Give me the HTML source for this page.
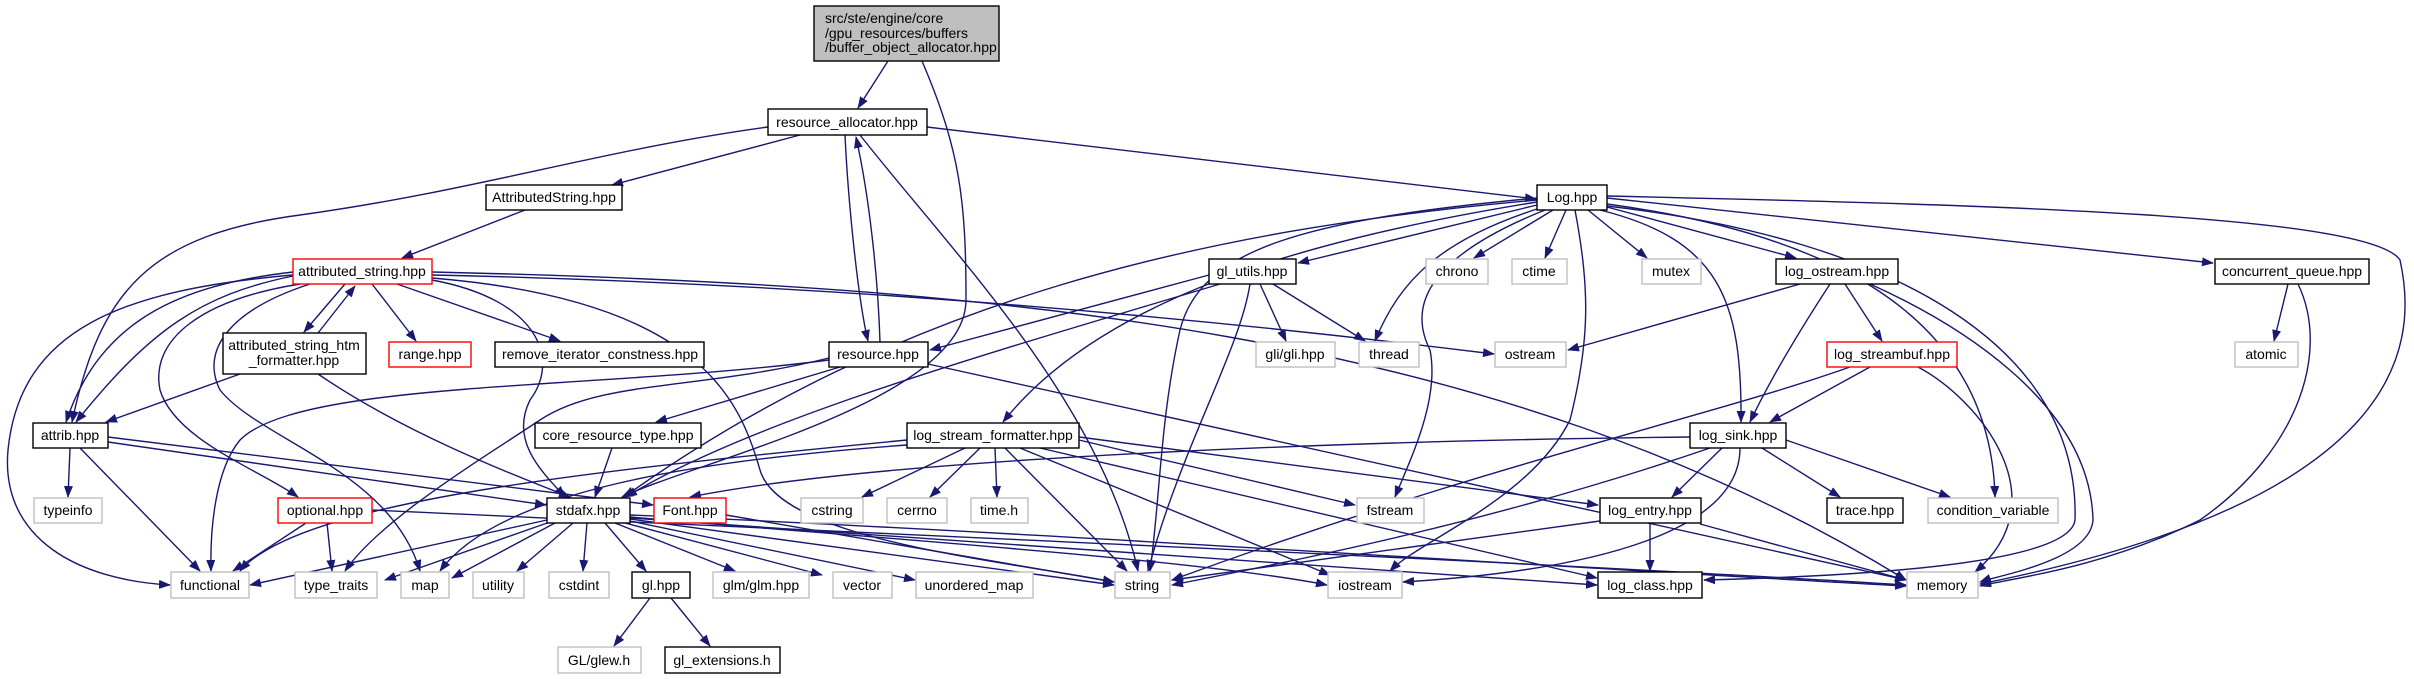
<!DOCTYPE html>
<html><head><meta charset="utf-8"><style>
html,body{margin:0;padding:0;background:#fff;}
svg{display:block;}
text{font-family:"Liberation Sans",Arial,sans-serif;font-size:14px;fill:#000;}
</style></head><body>
<svg width="2414" height="679" viewBox="0 0 2414 679" xmlns="http://www.w3.org/2000/svg">
<defs>
<marker id="a" markerUnits="userSpaceOnUse" markerWidth="12" markerHeight="10" refX="11" refY="4.5" orient="auto">
<path d="M0,0 L12,4.5 L0,9 z" fill="#191970"/>
</marker>
</defs>
<g fill="none" stroke="#191970" stroke-width="1.4" marker-end="url(#a)">
<path d="M888,61 L858,108"/>
<path d="M922,61 C960,150 966,200 966,300 C966,400 700,460 622,497"/>
<path d="M800,135 L612,185"/>
<path d="M768,127 C600,150 480,190 300,215 C150,235 100,290 72,422"/>
<path d="M845,135 C848,200 858,300 868,341"/>
<path d="M880,342 C878,280 870,200 856,137"/>
<path d="M860,135 C950,250 1100,400 1138,571"/>
<path d="M927,127 L1536,199"/>
<path d="M525,210 L402,258"/>
<path d="M345,284 L304,332"/>
<path d="M318,333 L355,286"/>
<path d="M372,284 L416,341"/>
<path d="M397,284 L560,341"/>
<path d="M293,272 C180,285 100,320 66,422"/>
<path d="M293,276 C200,295 150,330 76,422"/>
<path d="M293,275 C120,290 20,330 8,450 C0,540 80,580 170,585"/>
<path d="M300,284 C200,300 150,340 160,390 C175,440 260,470 298,497"/>
<path d="M310,284 C230,310 200,350 220,390 C260,440 390,470 420,571"/>
<path d="M432,275 C900,285 1300,330 1494,354"/>
<path d="M432,280 C540,300 560,360 530,400 C510,440 540,470 565,497"/>
<path d="M432,278 C700,300 740,400 760,470 C780,540 1000,560 1114,582"/>
<path d="M432,272 C1000,285 1500,330 1906,580"/>
<path d="M240,374 L106,422"/>
<path d="M318,374 C400,430 500,470 570,497"/>
<path d="M70,448 L68,497"/>
<path d="M80,448 L200,571"/>
<path d="M108,442 L546,505"/>
<path d="M108,437 L653,505"/>
<path d="M840,367 L656,422"/>
<path d="M829,360 C600,390 300,380 240,440 C215,470 210,530 211,571"/>
<path d="M829,358 C700,390 600,380 540,420 C480,460 380,520 345,571"/>
<path d="M928,364 L1906,580"/>
<path d="M612,448 L595,497"/>
<path d="M306,523 L233,571"/>
<path d="M327,523 L332,571"/>
<path d="M372,510 C800,530 1500,560 1906,585"/>
<path d="M547,520 L250,585"/>
<path d="M550,522 L385,580"/>
<path d="M555,523 L452,578"/>
<path d="M573,523 L517,571"/>
<path d="M587,523 L583,571"/>
<path d="M605,523 L646,571"/>
<path d="M615,523 L735,571"/>
<path d="M625,523 L822,575"/>
<path d="M630,521 L915,580"/>
<path d="M630,519 L1114,585"/>
<path d="M630,517 C900,540 1200,560 1327,585"/>
<path d="M630,515 C1000,530 1600,570 1906,586"/>
<path d="M630,518 L1597,585"/>
<path d="M726,515 L1114,582"/>
<path d="M650,598 L614,646"/>
<path d="M671,598 L710,646"/>
<path d="M1537,205 L1298,263"/>
<path d="M1553,210 L1474,258"/>
<path d="M1566,210 L1545,258"/>
<path d="M1588,210 L1647,258"/>
<path d="M1607,207 L1796,258"/>
<path d="M1607,198 L2213,263"/>
<path d="M1607,196 C2000,205 2370,215 2400,260 C2420,350 2400,500 1980,584"/>
<path d="M1607,204 C1800,230 1990,300 1995,497"/>
<path d="M1607,206 C1900,240 2080,350 2075,520 C2070,560 1900,575 1704,580"/>
<path d="M1870,284 C1950,320 2090,400 2093,520 C2090,560 2000,575 1980,582"/>
<path d="M1537,198 C1300,220 1200,250 1180,330 C1160,420 1160,500 1150,571"/>
<path d="M1537,200 C1200,230 900,300 624,497"/>
<path d="M1540,208 C1440,240 1400,280 1375,341"/>
<path d="M1545,210 C1420,260 1410,310 1430,350 C1440,400 1410,460 1395,497"/>
<path d="M1575,210 C1590,290 1590,340 1570,420 C1530,500 1420,540 1390,571"/>
<path d="M1537,202 C1300,240 1100,300 1003,422"/>
<path d="M1600,210 C1720,240 1742,300 1741,422"/>
<path d="M1209,275 L930,350"/>
<path d="M1260,284 L1286,341"/>
<path d="M1273,284 L1365,341"/>
<path d="M1250,284 C1240,350 1180,450 1148,571"/>
<path d="M1220,284 C1000,350 750,420 626,497"/>
<path d="M1800,284 L1568,350"/>
<path d="M1845,284 L1882,341"/>
<path d="M1830,284 C1800,330 1770,380 1750,422"/>
<path d="M1870,367 L1770,422"/>
<path d="M1850,367 C1700,420 1500,460 1172,580"/>
<path d="M1918,367 C1980,400 2060,500 1975,572"/>
<path d="M2288,284 L2274,341"/>
<path d="M2298,284 C2330,350 2300,450 2200,520 C2100,570 2000,580 1980,586"/>
<path d="M1690,437 C1400,440 900,455 690,497"/>
<path d="M1722,448 L1672,497"/>
<path d="M1762,448 L1840,497"/>
<path d="M1786,440 L1950,497"/>
<path d="M1710,448 C1500,520 1300,560 1172,585"/>
<path d="M1740,448 C1740,530 1600,570 1403,582"/>
<path d="M907,440 C600,470 300,500 240,571"/>
<path d="M907,445 C700,460 500,490 440,571"/>
<path d="M965,448 L862,497"/>
<path d="M980,448 L930,497"/>
<path d="M995,448 L997,497"/>
<path d="M1005,448 L1127,571"/>
<path d="M1020,448 L1330,575"/>
<path d="M1079,440 L1355,505"/>
<path d="M1079,437 L1598,505"/>
<path d="M1040,448 L1597,578"/>
<path d="M1650,523 L1650,571"/>
<path d="M1600,521 L1172,580"/>
<path d="M1700,524 L1906,580"/>
</g>
<g stroke-width="1.4">
<rect x="814" y="6" width="185" height="55" fill="#bfbfbf" stroke="#000"/>
<g fill="#fff" stroke="#000">
<rect x="768" y="109" width="159" height="26"/>
<rect x="486" y="185" width="136" height="25"/>
<rect x="1537" y="185" width="70" height="25"/>
<rect x="1209" y="259" width="87" height="25"/>
<rect x="1776" y="259" width="122" height="25"/>
<rect x="2215" y="259" width="154" height="25"/>
<rect x="223" y="333" width="143" height="41"/>
<rect x="495" y="342" width="209" height="25"/>
<rect x="829" y="342" width="99" height="25"/>
<rect x="33" y="423" width="75" height="25"/>
<rect x="535" y="423" width="166" height="25"/>
<rect x="907" y="423" width="172" height="25"/>
<rect x="1690" y="423" width="96" height="25"/>
<rect x="547" y="498" width="83" height="25"/>
<rect x="1600" y="498" width="101" height="25"/>
<rect x="1827" y="498" width="76" height="25"/>
<rect x="632" y="572" width="58" height="26"/>
<rect x="1598" y="572" width="104" height="26"/>
<rect x="665" y="647" width="115" height="26"/>
</g>
<g fill="#fff" stroke="#ff0000">
<rect x="293" y="259" width="139" height="25"/>
<rect x="389" y="342" width="82" height="25"/>
<rect x="1827" y="342" width="130" height="25"/>
<rect x="278" y="498" width="94" height="25"/>
<rect x="654" y="498" width="72" height="25"/>
</g>
<g fill="#fff" stroke="#bfbfbf">
<rect x="1426" y="259" width="62" height="25"/>
<rect x="1512" y="259" width="55" height="25"/>
<rect x="1642" y="259" width="59" height="25"/>
<rect x="1256" y="342" width="79" height="25"/>
<rect x="1359" y="342" width="60" height="25"/>
<rect x="1495" y="342" width="71" height="25"/>
<rect x="2235" y="342" width="63" height="25"/>
<rect x="34" y="498" width="68" height="25"/>
<rect x="801" y="498" width="62" height="25"/>
<rect x="887" y="498" width="60" height="25"/>
<rect x="971" y="498" width="57" height="25"/>
<rect x="1357" y="498" width="67" height="25"/>
<rect x="1928" y="498" width="130" height="25"/>
<rect x="171" y="572" width="78" height="26"/>
<rect x="295" y="572" width="82" height="26"/>
<rect x="401" y="572" width="48" height="26"/>
<rect x="473" y="572" width="51" height="26"/>
<rect x="549" y="572" width="60" height="26"/>
<rect x="713" y="572" width="96" height="26"/>
<rect x="833" y="572" width="59" height="26"/>
<rect x="916" y="572" width="117" height="26"/>
<rect x="1115" y="572" width="55" height="26"/>
<rect x="1328" y="572" width="74" height="26"/>
<rect x="1907" y="572" width="71" height="26"/>
<rect x="558" y="647" width="83" height="26"/>
</g>
</g>
<g text-anchor="middle">
<text x="825" y="23" text-anchor="start">src/ste/engine/core</text>
<text x="825" y="38" text-anchor="start">/gpu_resources/buffers</text>
<text x="825" y="52" text-anchor="start">/buffer_object_allocator.hpp</text>
<text x="847" y="127">resource_allocator.hpp</text>
<text x="554" y="202">AttributedString.hpp</text>
<text x="1572" y="202">Log.hpp</text>
<text x="362" y="276">attributed_string.hpp</text>
<text x="1252" y="276">gl_utils.hpp</text>
<text x="1457" y="276">chrono</text>
<text x="1539" y="276">ctime</text>
<text x="1671" y="276">mutex</text>
<text x="1837" y="276">log_ostream.hpp</text>
<text x="2292" y="276">concurrent_queue.hpp</text>
<text x="294" y="350">attributed_string_htm</text>
<text x="294" y="365">_formatter.hpp</text>
<text x="430" y="359">range.hpp</text>
<text x="600" y="359">remove_iterator_constness.hpp</text>
<text x="878" y="359">resource.hpp</text>
<text x="1295" y="359">gli/gli.hpp</text>
<text x="1389" y="359">thread</text>
<text x="1530" y="359">ostream</text>
<text x="1892" y="359">log_streambuf.hpp</text>
<text x="2266" y="359">atomic</text>
<text x="70" y="440">attrib.hpp</text>
<text x="618" y="440">core_resource_type.hpp</text>
<text x="993" y="440">log_stream_formatter.hpp</text>
<text x="1738" y="440">log_sink.hpp</text>
<text x="68" y="515">typeinfo</text>
<text x="325" y="515">optional.hpp</text>
<text x="588" y="515">stdafx.hpp</text>
<text x="690" y="515">Font.hpp</text>
<text x="832" y="515">cstring</text>
<text x="917" y="515">cerrno</text>
<text x="999" y="515">time.h</text>
<text x="1390" y="515">fstream</text>
<text x="1650" y="515">log_entry.hpp</text>
<text x="1865" y="515">trace.hpp</text>
<text x="1993" y="515">condition_variable</text>
<text x="210" y="590">functional</text>
<text x="336" y="590">type_traits</text>
<text x="425" y="590">map</text>
<text x="498" y="590">utility</text>
<text x="579" y="590">cstdint</text>
<text x="661" y="590">gl.hpp</text>
<text x="761" y="590">glm/glm.hpp</text>
<text x="862" y="590">vector</text>
<text x="974" y="590">unordered_map</text>
<text x="1142" y="590">string</text>
<text x="1365" y="590">iostream</text>
<text x="1650" y="590">log_class.hpp</text>
<text x="1942" y="590">memory</text>
<text x="599" y="665">GL/glew.h</text>
<text x="722" y="665">gl_extensions.h</text>
</g>
</svg>
</body></html>
